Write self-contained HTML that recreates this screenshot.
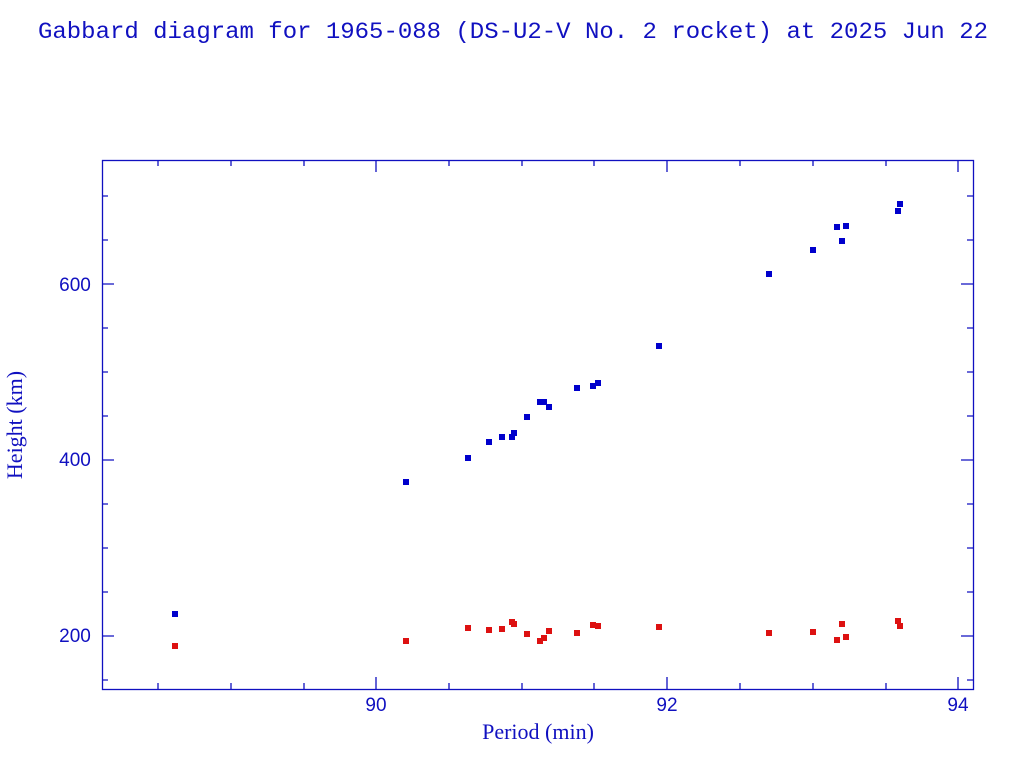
<!DOCTYPE html>
<html><head><style>body{margin:0;background:#fff}svg{display:block}</style></head><body>
<svg width="1024" height="768" xmlns="http://www.w3.org/2000/svg" font-family="Liberation Sans, sans-serif" fill="#1010c0">
<text x="513" y="38" text-anchor="middle" font-family="Liberation Mono, monospace" font-size="23.5" textLength="950" lengthAdjust="spacingAndGlyphs">Gabbard diagram for 1965-088 (DS-U2-V No. 2 rocket) at 2025 Jun 22</text>
<g stroke="#1010c0" stroke-width="1.3" fill="none">
<rect x="102.5" y="160.5" width="871" height="529"/>
<path d="M376 689v-12M667 689v-12M958 689v-12M158 689v-6M231 689v-6M304 689v-6M449 689v-6M522 689v-6M594 689v-6M740 689v-6M813 689v-6M886 689v-6
M376 160v12M667 160v12M958 160v12M158 160v6M231 160v6M304 160v6M449 160v6M522 160v6M594 160v6M740 160v6M813 160v6M886 160v6
M102 636h12M102 460h12M102 284h12M102 680h6M102 592h6M102 548h6M102 504h6M102 416h6M102 372h6M102 328h6M102 240h6M102 196h6
M973 636h-12M973 460h-12M973 284h-12M973 680h-6M973 592h-6M973 548h-6M973 504h-6M973 416h-6M973 372h-6M973 328h-6M973 240h-6M973 196h-6"/>
</g>
<g font-size="19" text-anchor="middle">
<text x="376" y="711">90</text><text x="667" y="711">92</text><text x="958" y="711">94</text>
<text x="75" y="642">200</text><text x="75" y="466">400</text><text x="75" y="291">600</text>
</g>
<text x="538" y="739" font-family="Liberation Serif, serif" font-size="22" text-anchor="middle">Period (min)</text>
<text transform="translate(22,425) rotate(-90)" font-family="Liberation Serif, serif" font-size="22" text-anchor="middle">Height (km)</text>
<g fill="#0000cc" stroke="none">
<rect x="172" y="611" width="6" height="6"/><rect x="403" y="479" width="6" height="6"/><rect x="465" y="455" width="6" height="6"/><rect x="486" y="439" width="6" height="6"/><rect x="499" y="434" width="6" height="6"/><rect x="509" y="434" width="6" height="6"/><rect x="511" y="430" width="6" height="6"/><rect x="524" y="414" width="6" height="6"/><rect x="537" y="399" width="6" height="6"/><rect x="541" y="399" width="6" height="6"/><rect x="546" y="404" width="6" height="6"/><rect x="574" y="385" width="6" height="6"/><rect x="590" y="383" width="6" height="6"/><rect x="595" y="380" width="6" height="6"/><rect x="656" y="343" width="6" height="6"/><rect x="766" y="271" width="6" height="6"/><rect x="810" y="247" width="6" height="6"/><rect x="834" y="224" width="6" height="6"/><rect x="839" y="238" width="6" height="6"/><rect x="843" y="223" width="6" height="6"/><rect x="895" y="208" width="6" height="6"/><rect x="897" y="201" width="6" height="6"/>
</g>
<g fill="#dd1111" stroke="none">
<rect x="172" y="643" width="6" height="6"/><rect x="403" y="638" width="6" height="6"/><rect x="465" y="625" width="6" height="6"/><rect x="486" y="627" width="6" height="6"/><rect x="499" y="626" width="6" height="6"/><rect x="509" y="619" width="6" height="6"/><rect x="511" y="621" width="6" height="6"/><rect x="524" y="631" width="6" height="6"/><rect x="537" y="638" width="6" height="6"/><rect x="541" y="635" width="6" height="6"/><rect x="546" y="628" width="6" height="6"/><rect x="574" y="630" width="6" height="6"/><rect x="590" y="622" width="6" height="6"/><rect x="595" y="623" width="6" height="6"/><rect x="656" y="624" width="6" height="6"/><rect x="766" y="630" width="6" height="6"/><rect x="810" y="629" width="6" height="6"/><rect x="834" y="637" width="6" height="6"/><rect x="839" y="621" width="6" height="6"/><rect x="843" y="634" width="6" height="6"/><rect x="895" y="618" width="6" height="6"/><rect x="897" y="623" width="6" height="6"/>
</g>
</svg>
</body></html>
